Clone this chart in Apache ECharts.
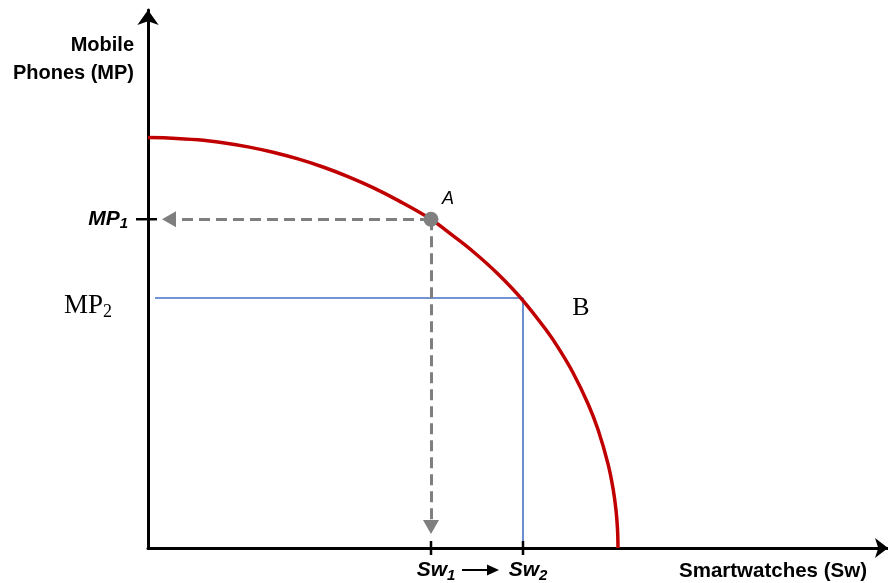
<!DOCTYPE html>
<html>
<head>
<meta charset="utf-8">
<script src="https://cdn.jsdelivr.net/npm/echarts@6/dist/echarts.min.js"></script>
<style>
html,body{margin:0;padding:0;background:#fff;}
#main{width:888px;height:583px;}
</style>
</head>
<body>
<div id="main"></div>
<script>
// Production possibilities frontier
var curveSw = [0, 20, 50, 75, 100, 125, 150, 175, 200, 225, 250, 283, 300, 325, 350, 375, 400, 410, 425, 440, 450, 460, 465, 468, 469.5, 470];
var curveMP = [412, 411.6, 409.7, 406.7, 402.6, 397.2, 390.5, 382.4, 372.8, 361.7, 348.9, 330, 317.2, 297.6, 275.0, 248.4, 216.3, 201.4, 175.9, 144.8, 118.9, 84.5, 59.9, 38.0, 19.0, 0];
var pointA = [283, 330];
var pointB = [375, 251];
var xTickValues = [283, 375];
var xTickLabels = ['Sw|1', 'Sw|2'];
var yTickValues = [330];
var yTickLabels = ['MP|1'];
var mp2Label = 'MP|2';
var axisMaxX = 740;
var axisMaxY = 540;

var curveData = curveSw.map(function (x, i) { return [x, curveMP[i]]; });

var chart = echarts.init(document.getElementById('main'), null, {renderer: 'canvas'});
var subRich = function (size, sub) {
  return {
    m: {fontFamily: 'Liberation Sans', fontWeight: 'bold', fontStyle: 'italic', fontSize: size, color: '#000', lineHeight: size + 4},
    s: {fontFamily: 'Liberation Sans', fontWeight: 'bold', fontStyle: 'italic', fontSize: sub, color: '#000', lineHeight: sub, verticalAlign: 'bottom'}
  };
};
var option = {
  backgroundColor: '#ffffff',
  animation: false,
  grid: {left: 148, right: 0, top: 10, bottom: 33, containLabel: false},
  xAxis: {
    type: 'value', min: 0, max: axisMaxX,
    splitLine: {show: false},
    axisTick: {show: false},
    axisLine: {show: true, symbol: ['none', 'arrow'], symbolSize: [15, 13], lineStyle: {color: '#000', width: 3}},
    axisLabel: {
      customValues: xTickValues,
      margin: 10,
      padding: [0, 0, 0, 10],
      formatter: function (v) {
        var i = xTickValues.indexOf(v);
        if (i < 0) return '';
        var p = xTickLabels[i].split('|');
        return '{m|' + p[0] + '}{s|' + p[1] + '}';
      },
      rich: subRich(21, 15)
    }
  },
  yAxis: {
    type: 'value', min: 0, max: axisMaxY,
    splitLine: {show: false},
    axisTick: {show: false},
    axisLine: {show: true, symbol: ['none', 'arrow'], symbolSize: [16, 15], lineStyle: {color: '#000', width: 3}},
    axisLabel: {
      customValues: yTickValues,
      margin: 20,
      formatter: function (v) {
        var i = yTickValues.indexOf(v);
        if (i < 0) return '';
        var p = yTickLabels[i].split('|');
        return '{m|' + p[0] + '}{s|' + p[1] + '}';
      },
      rich: subRich(21, 15)
    }
  },
  series: [
    {
      type: 'line', name: 'PPF', data: curveData, smooth: 0.4,
      showSymbol: false, lineStyle: {color: '#C00000', width: 3.5}, z: 3
    },
    {
      type: 'line', name: 'blue', data: [[7, pointB[1]], pointB, [pointB[0], 0]],
      showSymbol: false, lineStyle: {color: '#4472C4', width: 1.6}, z: 2
    },
    {
      type: 'line', name: 'guides', data: [], z: 2,
      markLine: {
        silent: true, animation: false,
        symbol: ['none', 'triangle'],
        symbolSize: [16, 14],
        label: {show: false},
        itemStyle: {color: '#7f7f7f'},
        lineStyle: {color: '#7f7f7f', width: 3, type: [11, 6]},
        data: [
          [{coord: pointA}, {coord: [21, pointA[1]]}],
          [{coord: pointA}, {coord: [pointA[0], 21]}]
        ]
      }
    },
    {
      type: 'custom', name: 'xticks', clip: false, z: 6,
      data: xTickValues.map(function (v) { return [v, 0]; }),
      renderItem: function (params, api) {
        var p = api.coord([api.value(0), api.value(1)]);
        return {type: 'line', shape: {x1: p[0], y1: p[1] - 7, x2: p[0], y2: p[1] + 7},
          style: {stroke: '#000', lineWidth: 2.5}};
      }
    },
    {
      type: 'custom', name: 'yticks', clip: false, z: 6,
      data: yTickValues.map(function (v) { return [0, v]; }),
      renderItem: function (params, api) {
        var p = api.coord([api.value(0), api.value(1)]);
        return {type: 'line', shape: {x1: p[0] - 12, y1: p[1], x2: p[0] + 9, y2: p[1]},
          style: {stroke: '#000', lineWidth: 2.5}};
      }
    },
    {
      type: 'custom', name: 'shift', clip: false, z: 6,
      data: [[xTickValues[0], xTickValues[1]]],
      renderItem: function (params, api) {
        var a = api.coord([api.value(0), 0]);
        var b = api.coord([api.value(1), 0]);
        var mid = (a[0] + b[0]) / 2;
        var y = a[1] + 22;
        return {type: 'group', children: [
          {type: 'line', shape: {x1: mid - 15, y1: y, x2: mid + 12, y2: y}, style: {stroke: '#000', lineWidth: 2}},
          {type: 'polygon', shape: {points: [[mid + 22, y], [mid + 10, y - 5.5], [mid + 10, y + 5.5]]}, style: {fill: '#000'}}
        ]};
      }
    },
    {
      type: 'scatter', name: 'A', data: [pointA], symbolSize: 15, z: 5,
      itemStyle: {color: '#808080', opacity: 1},
      label: {show: true, formatter: 'A', position: 'inside', offset: [17, -20],
        fontFamily: 'Liberation Sans', fontStyle: 'italic', fontSize: 18, color: '#000', opacity: 1}
    },
    {
      type: 'scatter', name: 'B', data: [pointB], symbolSize: 0, z: 5,
      itemStyle: {color: '#000', opacity: 1},
      label: {show: true, formatter: 'B', position: 'inside', offset: [58, 10],
        fontFamily: 'Liberation Serif', fontSize: 26, color: '#000', opacity: 1}
    },
    {
      type: 'scatter', name: 'MP2', data: [[0, pointB[1]]], symbolSize: 0, z: 5,
      itemStyle: {color: '#000', opacity: 1},
      label: {show: true, position: 'left', distance: 36, offset: [0, 8], opacity: 1,
        formatter: function () { var p = mp2Label.split('|'); return '{t|' + p[0] + '}{ts|' + p[1] + '}'; },
        rich: {
          t: {fontFamily: 'Liberation Serif', fontSize: 27, color: '#000', lineHeight: 30},
          ts: {fontFamily: 'Liberation Serif', fontSize: 18, color: '#000', lineHeight: 17, verticalAlign: 'bottom'}
        }}
    }
  ],
  graphic: [
    {type: 'text', right: 888 - 134, top: 35, style: {text: 'Mobile', font: 'bold 20px "Liberation Sans"', fill: '#000', textAlign: 'right'}},
    {type: 'text', right: 888 - 134, top: 63, style: {text: 'Phones (MP)', font: 'bold 20px "Liberation Sans"', fill: '#000', textAlign: 'right'}},
    {type: 'text', left: 679, top: 561, style: {text: 'Smartwatches (Sw)', font: 'bold 20.5px "Liberation Sans"', fill: '#000'}}
  ]
};
chart.setOption(option);
</script>
</body>
</html>
